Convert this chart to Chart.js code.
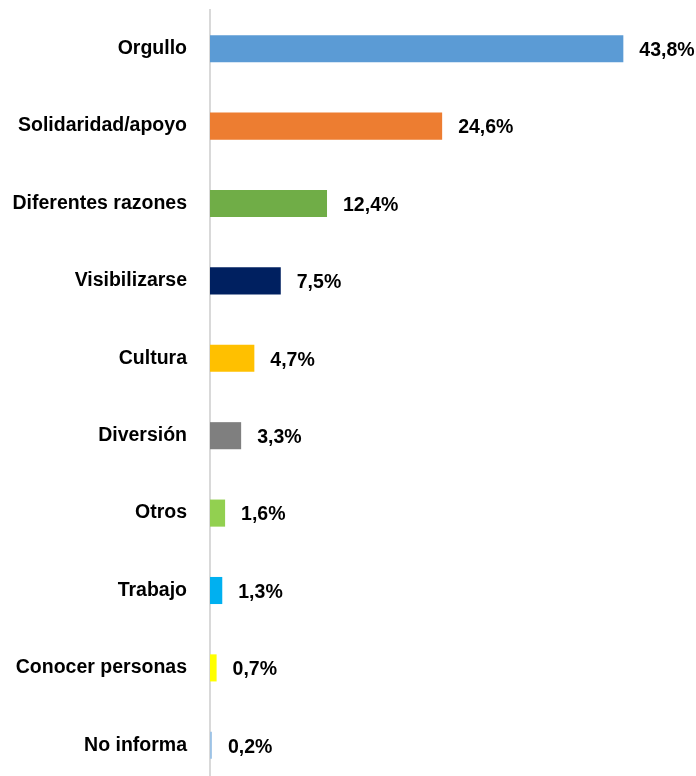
<!DOCTYPE html>
<html lang="es">
<head>
  <meta charset="UTF-8">
  <title>Motivos</title>
  <script src="https://cdn.jsdelivr.net/npm/chart.js@4/dist/chart.umd.min.js"></script>
  <style>
    html, body { margin: 0; padding: 0; background: #fff; overflow: hidden; }
    .wrap { position: relative; width: 696px; height: 784px; }
  </style>
</head>
<body>
  <div class="wrap"><canvas id="chart"></canvas></div>
  <script>
    const categories = ['Orgullo', 'Solidaridad/apoyo', 'Diferentes razones', 'Visibilizarse', 'Cultura',
      'Diversión', 'Otros', 'Trabajo', 'Conocer personas', 'No informa'];
    const values = [43.8, 24.6, 12.4, 7.5, 4.7, 3.3, 1.6, 1.3, 0.7, 0.2];
    const barColors = ['#5b9bd5', '#ed7d31', '#70ad47', '#002060', '#ffc000',
      '#7f7f7f', '#92d050', '#00b0f0', '#ffff00', '#9dc3e6'];

    const font = { family: '"Liberation Sans", Arial, sans-serif', size: 19.5, weight: 'bold' };

    // draws "43,8%" style labels after each bar
    const valueLabels = {
      id: 'valueLabels',
      afterDatasetsDraw(chart) {
        const ctx = chart.ctx;
        const meta = chart.getDatasetMeta(0);
        ctx.save();
        ctx.font = `${font.weight} ${font.size}px ${font.family}`;
        ctx.fillStyle = '#000';
        ctx.textAlign = 'left';
        ctx.textBaseline = 'middle';
        meta.data.forEach((bar, i) => {
          const txt = values[i].toFixed(1).replace('.', ',') + '%';
          ctx.fillText(txt, bar.x + 16, bar.y + 2);
        });
        ctx.restore();
      }
    };

    new Chart(document.getElementById('chart'), {
      type: 'bar',
      data: {
        labels: categories,
        datasets: [{
          data: values,
          backgroundColor: barColors,
          barPercentage: 0.35,
          categoryPercentage: 1
        }]
      },
      options: {
        indexAxis: 'y',
        responsive: true,
        maintainAspectRatio: false,
        animation: false,
        layout: { padding: { top: 10, right: 0, bottom: 0, left: 0 } },
        plugins: {
          legend: { display: false },
          tooltip: { enabled: false }
        },
        scales: {
          x: {
            display: false,
            min: 0,
            max: 51.5
          },
          y: {
            grid: { display: false, drawTicks: false },
            border: { display: true, color: '#d9d9d9', width: 2 },
            ticks: { color: '#000', font: font, padding: 23 },
            afterFit(scale) {
              scale.width = 210;
              scale.paddingTop = 0;
              scale.paddingBottom = 0;
            }
          }
        }
      },
      plugins: [valueLabels]
    });
  </script>
</body>
</html>
